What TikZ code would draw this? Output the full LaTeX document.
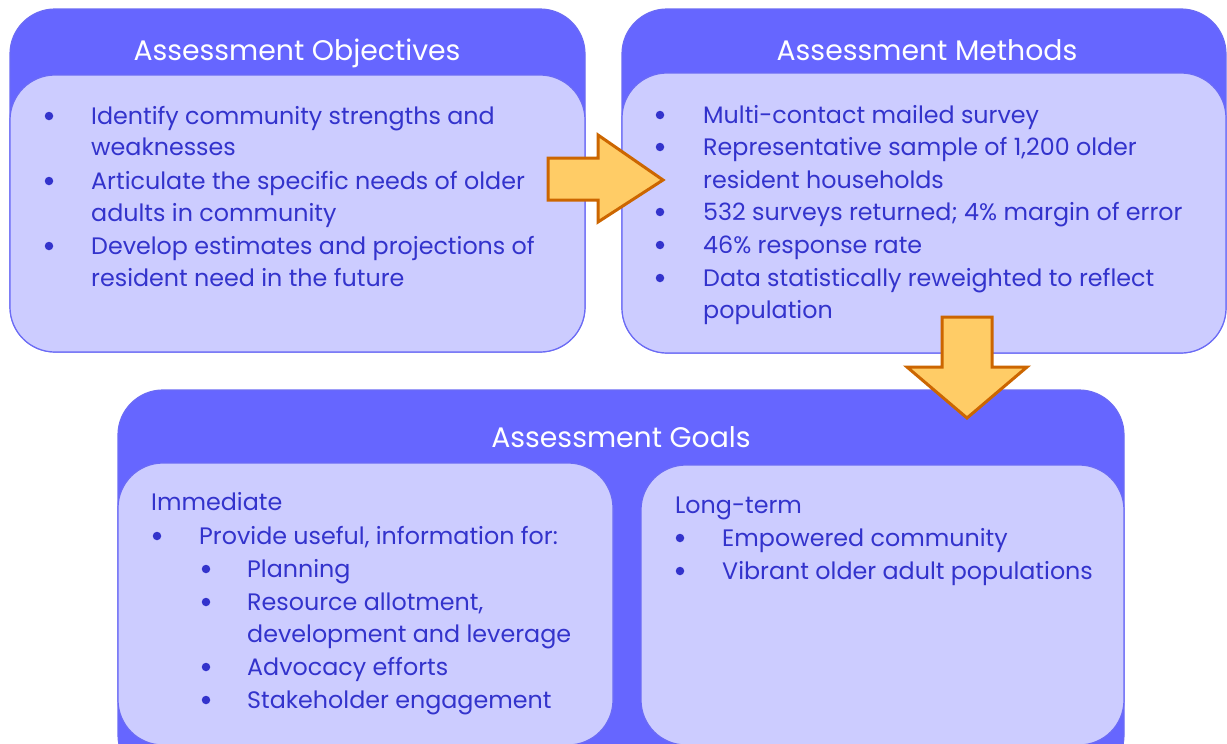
\documentclass[tikz,border=0pt]{standalone}
\usepackage{fontspec}
\setmainfont{Poppins}
\definecolor{outerc}{HTML}{6666FF}
\definecolor{innerc}{HTML}{CCCCFF}
\definecolor{edgec}{HTML}{6B6BF5}
\definecolor{txtc}{HTML}{3333CC}
\definecolor{arrfill}{HTML}{FFCC66}
\definecolor{arrdraw}{HTML}{CC6600}
\tikzset{
  outerbox/.style={draw=edgec, line width=1.2pt, fill=outerc, rounded corners=45pt, inner sep=0pt},
  innerbox/.style={draw=edgec, line width=1.2pt, fill=innerc, rounded corners=45pt, inner sep=0pt},
  titletext/.style={text=white, font=\fontsize{28.3}{32}\selectfont, inner sep=0pt, anchor=base},
  bodytext/.style={text=txtc, font=\fontsize{23.8}{26}\selectfont, inner sep=0pt, anchor=base west},
  dotb/.style={circle, fill=txtc, inner sep=0pt, minimum size=8.5pt},
  blockarrow/.style={fill=arrfill, draw=arrdraw, line width=3pt, line join=miter}
}
\newcommand\tline[4]{\node[bodytext] (#1) at (#2,#3) {#4};}
\newcommand\bdot[3]{\node[dotb] (#1) at (#2,#3) {};}
\begin{document}
\begin{tikzpicture}[x=1pt,y=-1pt]
\useasboundingbox (0,0) rectangle (1227,744);
\fill[white] (0,0) rectangle (1227,744);
% Box 1
\node[outerbox, minimum width=575pt, minimum height=343pt] (objout) at (297.5,180.5) {};
\node[innerbox, minimum width=575pt, minimum height=277pt] (objin) at (297.5,213.5) {};
\node[titletext] (objtitle) at (297,60) {Assessment Objectives};
\bdot{o1}{49}{116}\bdot{o2}{49}{181}\bdot{o3}{49}{246}
\tline{ol1}{91}{124}{Identify community strengths and}
\tline{ol2}{91}{155}{weaknesses}
\tline{ol3}{91}{189}{Articulate the specific needs of older}
\tline{ol4}{91}{221}{adults in community}
\tline{ol5}{91}{254}{Develop estimates and projections of}
\tline{ol6}{91}{286}{resident need in the future}
% Box 2
\node[outerbox, minimum width=604pt, minimum height=344pt] (metout) at (924,181) {};
\node[innerbox, minimum width=604pt, minimum height=280pt] (metin) at (924,213) {};
\node[titletext] (mettitle) at (927,60) {Assessment Methods};
\bdot{m1}{660}{115}\bdot{m2}{660}{147}\bdot{m3}{660}{212}\bdot{m4}{660}{245}\bdot{m5}{660}{278}
\tline{ml1}{703}{123}{Multi-contact mailed survey}
\tline{ml2}{703}{155}{Representative sample of 1,200 older}
\tline{ml3}{703}{188}{resident households}
\tline{ml4}{703}{220}{532 surveys returned; 4\% margin of error}
\tline{ml5}{703}{253}{46\% response rate}
\tline{ml6}{703}{286}{Data statistically reweighted to reflect}
\tline{ml7}{703}{318}{population}
% Box 3
\node[outerbox, minimum width=1006pt, minimum height=390pt] (goalout) at (621,585) {};
\node[titletext] (goaltitle) at (621,447) {Assessment Goals};
\node[innerbox, minimum width=495pt, minimum height=282pt] (immin) at (365.5,604) {};
\node[innerbox, minimum width=483pt, minimum height=280pt] (longin) at (882.5,605) {};
\tline{ih}{151}{510}{Immediate}
\bdot{i1}{157}{536}
\tline{il1}{199}{544}{Provide useful, information for:}
\bdot{i2}{206}{569}\bdot{i3}{206}{602}\bdot{i4}{206}{667}\bdot{i5}{206}{700}
\tline{il2}{247}{577}{Planning}
\tline{il3}{247}{610}{Resource allotment,}
\tline{il4}{247}{642}{development and leverage}
\tline{il5}{247}{675}{Advocacy efforts}
\tline{il6}{247}{708}{Stakeholder engagement}
\tline{lh}{675}{513}{Long-term}
\bdot{l1}{680}{538}\bdot{l2}{680}{571}
\tline{ll1}{722}{546}{Empowered community}
\tline{ll2}{722}{579}{Vibrant older adult populations}
% Arrows
\draw[blockarrow] (548,158) -- (598,158) -- (598,135) -- (663,180) -- (598,222) -- (598,200) -- (548,200) -- cycle;
\draw[blockarrow] (942,317) -- (992,317) -- (992,367) -- (1027,367) -- (967,418) -- (907,367) -- (942,367) -- cycle;
\end{tikzpicture}
\end{document}
